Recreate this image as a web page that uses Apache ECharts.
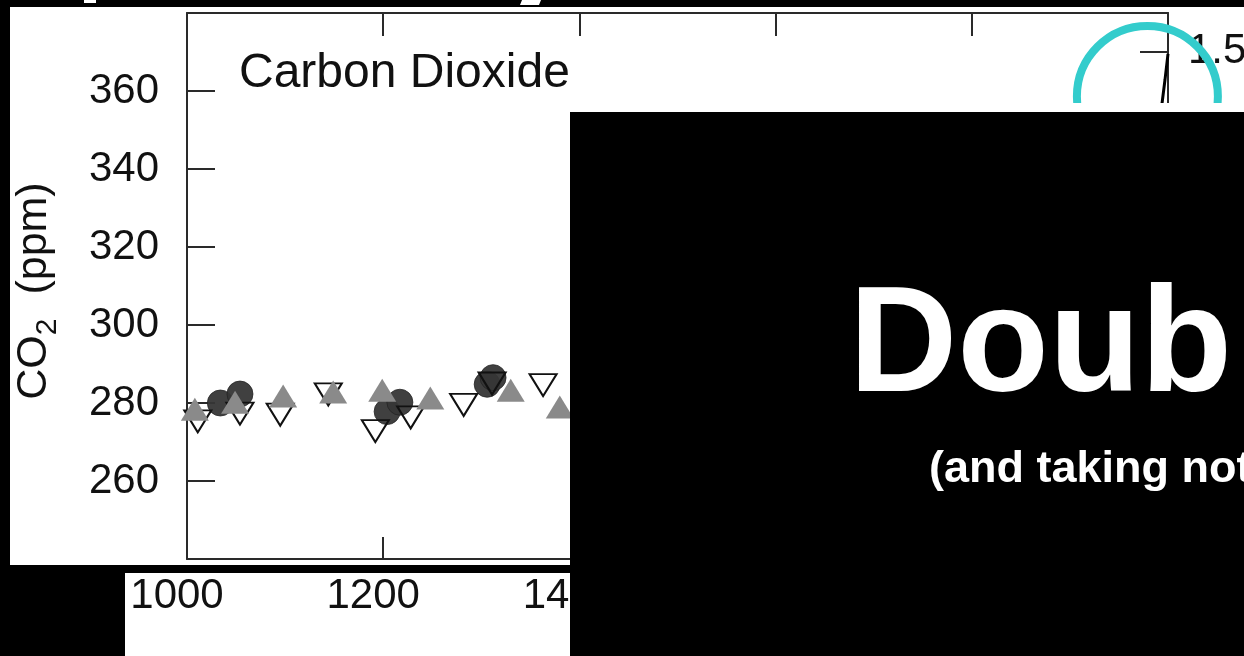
<!DOCTYPE html>
<html>
<head>
<meta charset="utf-8">
<script src="https://cdn.jsdelivr.net/npm/echarts@6/dist/echarts.min.js"></script>
<style>
html,body{margin:0;padding:0;background:#000;}
#c{width:1244px;height:656px;}
</style>
</head>
<body>
<div id="c"></div>
<script>
// ---- data ----
const xTicks = [1000, 1200, 1400, 1600, 1800, 2000];
const yTicks = [240, 260, 280, 300, 320, 340, 360, 380];
const forcingTicks = [0.0, 0.5, 1.0, 1.5];
// dark filled circles (ice core record A)
const circleYears = [1034, 1054, 1204, 1217, 1306, 1312];
const circlePpm   = [280.0, 282.3, 277.8, 280.2, 284.8, 286.5];
// grey filled triangles (ice core record B)
const triUpYears = [1008, 1049, 1098, 1149, 1199, 1248, 1330, 1380];
const triUpPpm   = [278.4, 280.2, 281.8, 282.8, 283.3, 281.3, 283.3, 279.0];
// open triangles (ice core record C)
const triDownYears = [1011, 1054, 1095, 1144, 1192, 1228, 1282, 1311, 1363];
const triDownPpm   = [275.3, 277.3, 277.0, 282.2, 272.8, 276.3, 279.5, 285.0, 284.6];
// direct atmospheric measurements (mostly hidden)
const directYears = [1958, 1965, 1970, 1975, 1980, 1985, 1990, 1994, 1997, 2000];
const directPpm   = [315, 320, 325.5, 331, 338.5, 346, 354, 357, 363, 369.5];
// highlight ring centre
const ringYear = [1979];
const ringPpm  = [358.6];

const FONT = '"Liberation Sans", Arial, Helvetica, sans-serif';
const pairs = (a, b) => a.map((v, i) => [v, b[i]]);

const chart = echarts.init(document.getElementById('c'), null, {renderer: 'canvas'});
const axisLineStyle = {color: '#2a2a2a', width: 2};

chart.setOption({
  backgroundColor: '#ffffff',
  animation: false,
  title: {
    text: 'Carbon Dioxide',
    left: 234, top: 45,
    textStyle: {fontFamily: FONT, fontWeight: 'normal', fontSize: 48, color: '#111'}
  },
  grid: {left: 187, right: 76, top: 13, bottom: 97, containLabel: false, outerBoundsMode: 'none'},
  xAxis: [{
    type: 'value', min: xTicks[0], max: xTicks[xTicks.length - 1], interval: 200,
    position: 'bottom',
    axisLine: {show: true, onZero: false, lineStyle: axisLineStyle},
    axisTick: {show: true, inside: true, length: 22, lineStyle: axisLineStyle},
    axisLabel: {show: true, showMaxLabel: false, margin: 16, padding: [0, 20, 0, 0],
      formatter: v => String(v),
      fontFamily: FONT, fontSize: 42, color: '#111'},
    splitLine: {show: false}
  }, {
    type: 'value', min: xTicks[0], max: xTicks[xTicks.length - 1], interval: 200,
    position: 'top',
    axisLine: {show: true, onZero: false, lineStyle: axisLineStyle},
    axisTick: {show: true, inside: true, length: 23, lineStyle: axisLineStyle},
    axisLabel: {show: false},
    splitLine: {show: false}
  }],
  yAxis: [{
    type: 'value', min: yTicks[0], max: yTicks[yTicks.length - 1], interval: 20,
    position: 'left',
    name: '{m|CO}{s|2}{m|  (ppm)}',
    nameLocation: 'middle', nameRotate: 90, nameGap: 124,
    nameTextStyle: {
      fontFamily: FONT, color: '#111', padding: [0, 10, 0, 0],
      rich: {
        m: {fontFamily: FONT, fontSize: 43, lineHeight: 58, color: '#111'},
        s: {fontFamily: FONT, fontSize: 30, lineHeight: 30, verticalAlign: 'bottom', color: '#111'}
      }
    },
    axisLine: {show: true, onZero: false, lineStyle: axisLineStyle},
    axisTick: {show: true, inside: true, length: 28, lineStyle: axisLineStyle},
    axisLabel: {show: true, showMinLabel: false, showMaxLabel: false, margin: 28,
      formatter: v => String(v),
      fontFamily: FONT, fontSize: 42, color: '#111'},
    splitLine: {show: false}
  }, {
    type: 'value', min: -0.624, max: 1.663,
    position: 'right',
    axisLine: {show: true, onZero: false, lineStyle: axisLineStyle},
    axisTick: {show: true, inside: true, length: 28, lineStyle: axisLineStyle, customValues: forcingTicks},
    axisLabel: {show: true, margin: 20, customValues: forcingTicks,
      formatter: v => v.toFixed(1),
      fontFamily: FONT, fontSize: 42, color: '#111'},
    splitLine: {show: false}
  }],
  series: [{
    name: 'circles', type: 'scatter', z: 3,
    data: pairs(circleYears, circlePpm),
    symbol: 'circle', symbolSize: 26,
    itemStyle: {color: '#363636', opacity: 0.95, borderColor: '#222', borderWidth: 0.8}
  }, {
    name: 'open triangles', type: 'scatter', z: 4,
    data: pairs(triDownYears, triDownPpm),
    symbol: 'triangle', symbolRotate: 180, symbolSize: [27, 22],
    itemStyle: {color: 'rgba(255,255,255,0)', borderColor: '#111', borderWidth: 2, opacity: 1}
  }, {
    name: 'grey triangles', type: 'scatter', z: 5,
    data: pairs(triUpYears, triUpPpm),
    symbol: 'triangle', symbolSize: [28, 23],
    itemStyle: {color: '#8a8a8a', opacity: 1}
  }, {
    name: 'direct', type: 'line', z: 6,
    data: pairs(directYears, directPpm),
    showSymbol: false, symbol: 'none',
    lineStyle: {color: '#000', width: 3}
  }, {
    name: 'ring', type: 'scatter', z: 10, clip: false,
    data: pairs(ringYear, ringPpm),
    symbol: 'circle', symbolSize: 141,
    itemStyle: {color: 'rgba(0,0,0,0)', borderColor: '#33cccc', borderWidth: 8, opacity: 1}
  }],
  graphic: {
    elements: [
      // white gap above the overlay box
      {type: 'rect', z: 90, shape: {x: 570, y: 103, width: 674, height: 10}, style: {fill: '#fff'}},
      // black slide regions
      {type: 'rect', z: 100, shape: {x: 0, y: 0, width: 1244, height: 7}, style: {fill: '#000'}},
      {type: 'rect', z: 100, shape: {x: 0, y: 0, width: 10, height: 656}, style: {fill: '#000'}},
      {type: 'rect', z: 100, shape: {x: 0, y: 565, width: 1244, height: 8}, style: {fill: '#000'}},
      {type: 'rect', z: 100, shape: {x: 0, y: 565, width: 125, height: 91}, style: {fill: '#000'}},
      {type: 'rect', z: 100, shape: {x: 570, y: 112, width: 674, height: 544}, style: {fill: '#000'}},
      // fragments of a heading above
      {type: 'rect', z: 101, shape: {x: 84, y: 0, width: 12, height: 3}, style: {fill: '#fff'}},
      {type: 'polygon', z: 101, shape: {points: [[522, 0], [541, 0], [539, 5], [520, 5]]}, style: {fill: '#fff'}},
      // overlay text
      {type: 'text', z: 102, x: 849, y: 350,
        style: {text: 'Doub', font: 'bold 150px ' + FONT, fill: '#fff', textVerticalAlign: 'middle', textAlign: 'left'}},
      {type: 'text', z: 102, x: 929, y: 470,
        style: {text: '(and taking note of the uncertainties)', font: 'bold 45px ' + FONT, fill: '#fff', textVerticalAlign: 'middle', textAlign: 'left'}}
    ]
  }
});
</script>
</body>
</html>
